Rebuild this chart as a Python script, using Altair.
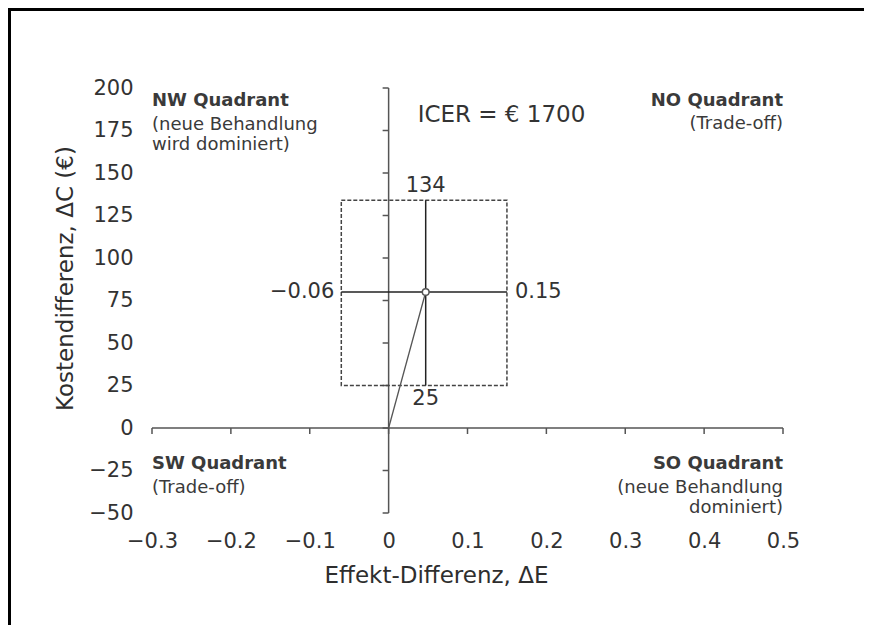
import altair as alt
import pandas as pd

# ---- data ----
x_ticks = [-0.3, -0.2, -0.1, 0.0, 0.1, 0.2, 0.3, 0.4, 0.5]
y_ticks = [-50, -25, 0, 25, 50, 75, 100, 125, 150, 175, 200]
delta_e = 0.047          # point estimate, effect difference
delta_c = 80             # point estimate, cost difference
ci_e = [-0.06, 0.15]     # CI of effect difference
ci_c = [25, 134]         # CI of cost difference
ci_e_labels = ["\u22120.06", "0.15"]
ci_c_labels = ["25", "134"]
icer_text = "ICER = \u20ac 1700"
quad_titles = ["NW Quadrant", "NO Quadrant", "SW Quadrant", "SO Quadrant"]
quad_notes = ["(neue Behandlung\nwird dominiert)", "(Trade-off)",
              "(Trade-off)", "(neue Behandlung\ndominiert)"]

FONT = "DejaVu Sans"
TXT = "#333333"

xs = alt.Scale(domain=[x_ticks[0], x_ticks[-1]], nice=False, zero=False)
ys = alt.Scale(domain=[y_ticks[0], y_ticks[-1]], nice=False, zero=False)

x_axis = alt.Axis(
    values=x_ticks, domain=False, ticks=False, grid=False, labelFlush=False,
    labelFont=FONT, labelFontSize=21, labelColor=TXT, labelPadding=17,
    labelExpr="datum.value == 0 ? '0' : (datum.value < 0 ? '\u2212' + format(-datum.value, '.1f') : format(datum.value, '.1f'))",
    title="Effekt-Differenz, \u0394E", titleFont=FONT, titleFontSize=23,
    titleFontWeight="normal", titleColor="#2e2e2e",
    titleX=284, titleY=62, titleAlign="center", titleBaseline="middle",
)
y_axis = alt.Axis(
    values=y_ticks, domain=False, ticks=False, grid=False, labelFlush=False,
    labelFont=FONT, labelFontSize=21, labelColor=TXT, labelPadding=19,
    labelExpr="datum.value < 0 ? '\u2212' + (-datum.value) : '' + datum.value",
    title="Kostendifferenz, \u0394C (\u20ac)", titleFont=FONT, titleFontSize=23,
    titleFontWeight="normal", titleColor="#2e2e2e", titleAngle=270,
    titleX=-87, titleY=190, titleAlign="center", titleBaseline="middle",
)


def X(field, **kw):
    return alt.X(field, type="quantitative", scale=xs, axis=x_axis, **kw)


def Y(field, **kw):
    return alt.Y(field, type="quantitative", scale=ys, axis=y_axis, **kw)


one = pd.DataFrame({"k": [0]})

# frame (decoration around the figure)
frame_left = alt.Chart(one).mark_rule(color="black", strokeWidth=3, clip=False).encode(
    x=alt.value(-142.5), y=alt.value(-80), y2=alt.value(537))
frame_top = alt.Chart(one).mark_rule(color="black", strokeWidth=3, clip=False).encode(
    x=alt.value(-144), x2=alt.value(712), y=alt.value(-78.5))

# axis lines through the origin
xline = alt.Chart(pd.DataFrame({"x": [x_ticks[0]], "x2": [x_ticks[-1]], "y": [0]})).mark_rule(
    color="#555", strokeWidth=1.5).encode(x=X("x"), x2="x2", y=Y("y"))
yline = alt.Chart(pd.DataFrame({"x": [0], "y": [y_ticks[0]], "y2": [y_ticks[-1]]})).mark_rule(
    color="#555", strokeWidth=1.5).encode(x=X("x"), y=Y("y"), y2="y2")

xtick_df = pd.DataFrame({"x": x_ticks, "y": [0] * len(x_ticks)})
ytick_df = pd.DataFrame({"x": [0] * len(y_ticks), "y": y_ticks})
xticks = alt.Chart(xtick_df).mark_tick(orient="vertical", size=6, thickness=1.5,
                                       yOffset=3, color="#555", opacity=1).encode(x=X("x"), y=Y("y"))
yticks = alt.Chart(ytick_df).mark_tick(orient="horizontal", size=6, thickness=1.5,
                                       xOffset=-3, color="#555", opacity=1).encode(x=X("x"), y=Y("y"))

# dashed confidence box
box_df = pd.DataFrame({"x": [ci_e[0]], "x2": [ci_e[1]], "y": [ci_c[0]], "y2": [ci_c[1]]})
box = alt.Chart(box_df).mark_rect(filled=False, stroke="#444", strokeWidth=1.5,
                                  strokeDash=[4, 2]).encode(x=X("x"), x2="x2", y=Y("y"), y2="y2")

# CI lines
hci = alt.Chart(pd.DataFrame({"x": [ci_e[0]], "x2": [ci_e[1]], "y": [delta_c]})).mark_rule(
    color="#222", strokeWidth=1.5).encode(x=X("x"), x2="x2", y=Y("y"))
vci = alt.Chart(pd.DataFrame({"x": [delta_e], "y": [ci_c[0]], "y2": [ci_c[1]]})).mark_rule(
    color="#222", strokeWidth=1.5).encode(x=X("x"), y=Y("y"), y2="y2")

# line from origin to point estimate
ray = alt.Chart(pd.DataFrame({"x": [0], "y": [0], "x2": [delta_e], "y2": [delta_c]})).mark_rule(
    color="#555", strokeWidth=1.3).encode(x=X("x"), y=Y("y"), x2="x2", y2="y2")

pt = alt.Chart(pd.DataFrame({"x": [delta_e], "y": [delta_c]})).mark_point(
    shape="circle", filled=True, fill="white", stroke="#555", strokeWidth=1.5,
    size=45, opacity=1).encode(x=X("x"), y=Y("y"))

tstyle = dict(font=FONT, fontSize=21, color=TXT)
lab_top = alt.Chart(pd.DataFrame({"x": [delta_e], "y": [ci_c[1]], "t": [ci_c_labels[1]]})).mark_text(
    baseline="bottom", align="center", dy=-4, **tstyle).encode(x=X("x"), y=Y("y"), text="t:N")
lab_bot = alt.Chart(pd.DataFrame({"x": [delta_e], "y": [ci_c[0]], "t": [ci_c_labels[0]]})).mark_text(
    baseline="top", align="center", dy=2, **tstyle).encode(x=X("x"), y=Y("y"), text="t:N")
lab_left = alt.Chart(pd.DataFrame({"x": [ci_e[0]], "y": [delta_c], "t": [ci_e_labels[0]]})).mark_text(
    baseline="middle", align="right", dx=-7, **tstyle).encode(x=X("x"), y=Y("y"), text="t:N")
lab_right = alt.Chart(pd.DataFrame({"x": [ci_e[1]], "y": [delta_c], "t": [ci_e_labels[1]]})).mark_text(
    baseline="middle", align="left", dx=8, **tstyle).encode(x=X("x"), y=Y("y"), text="t:N")

icer = alt.Chart(pd.DataFrame({"x": [0], "y": [y_ticks[-1]], "t": [icer_text]})).mark_text(
    baseline="middle", align="left", dx=29, dy=27, font=FONT, fontSize=23, color=TXT
).encode(x=X("x"), y=Y("y"), text="t:N")

# quadrant labels (anchored at the plot corners)
xl, xr, yt, yb = x_ticks[0], x_ticks[-1], y_ticks[-1], y_ticks[0]
qt_style = dict(font=FONT, fontSize=18, fontWeight="bold", color="#3a3a3a", baseline="middle")
qn_style = dict(font=FONT, fontSize=18, color="#3a3a3a", baseline="middle", lineBreak="\n", lineHeight=20)


def qlabel(title, note, x, y, align, dy_title, dy_note):
    d = pd.DataFrame({"x": [x], "y": [y], "t": [title], "n": [note]})
    a = alt.Chart(d).mark_text(align=align, dy=dy_title, **qt_style).encode(
        x=X("x"), y=Y("y"), text="t:N")
    b = alt.Chart(d).mark_text(align=align, dy=dy_note, **qn_style).encode(
        x=X("x"), y=Y("y"), text="n:N")
    return [a, b]


quads = []
quads += qlabel(quad_titles[0], quad_notes[0], xl, yt, "left", 13, 37)
quads += qlabel(quad_titles[1], quad_notes[1], xr, yt, "right", 13, 36)
quads += qlabel(quad_titles[2], quad_notes[2], xl, yb, "left", -49, -25)
quads += qlabel(quad_titles[3], quad_notes[3], xr, yb, "right", -49, -25)

chart = alt.layer(
    xline, yline, xticks, yticks, box, hci, vci, ray, pt,
    lab_top, lab_bot, lab_left, lab_right, icer, *quads, frame_left, frame_top,
).properties(
    width=631, height=425,
    autosize=alt.AutoSizeParams(type="none"),
    padding={"left": 144, "top": 80, "right": 82, "bottom": 112},
    background="white",
).configure_view(stroke=None)

chart.save("out.html", embed_options={"renderer": "svg", "actions": False})
